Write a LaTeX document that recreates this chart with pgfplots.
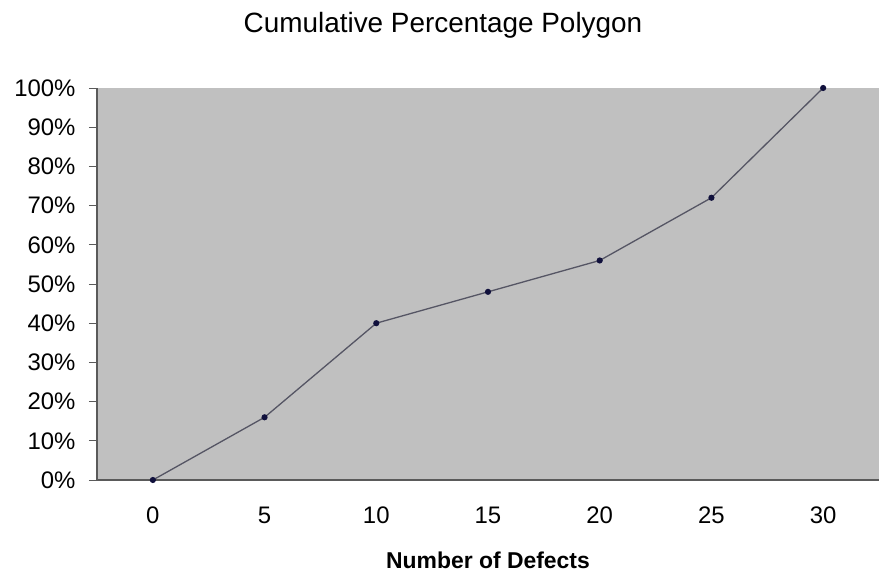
\documentclass[border=0pt]{standalone}
\usepackage{fontspec}
\setmainfont{Liberation Sans}
\usepackage{pgfplots}
\pgfplotsset{compat=1.18}

\definecolor{plotgray}{RGB}{192,192,192}
\definecolor{axisgray}{RGB}{90,90,90}
\definecolor{linegray}{RGB}{85,85,100}
\definecolor{marknavy}{RGB}{16,16,60}

\begin{document}
\begin{tikzpicture}
\begin{axis}[
    at={(0,0)}, anchor=south west,
    scale only axis,
    width=782bp, height=392bp,
    xmin=-2.5, xmax=32.5,
    ymin=0, ymax=100,
    axis background/.style={fill=plotgray},
    axis x line*=bottom,
    axis y line*=left,
    axis line style={axisgray, line width=1.2bp},
    xtick={0,5,...,30},
    extra x ticks={-2.5,2.5,7.5,12.5,17.5,22.5,27.5},
    extra x tick labels={},
    extra x tick style={major tick length=8bp, tick style={axisgray, line width=0.8bp}},
    major x tick style={draw=none},
    ytick={0,10,...,100},
    yticklabel={\pgfmathprintnumber{\tick}\%},
    y tick style={axisgray, line width=0.8bp},
    tick align=outside,
    major tick length=8bp,
    xticklabel style={font=\fontsize{24}{27}\selectfont, anchor=north,
        text height=18bp, text depth=0bp, yshift=-14bp},
    yticklabel style={font=\fontsize{24}{27}\selectfont, xshift=-10bp},
    /pgf/number format/assume math mode=true,
    xlabel={\textbf{Number of Defects}},
    xlabel style={font=\fontsize{23}{26}\selectfont, yshift=-6bp},
    clip=false,
]
\addplot[color=linegray, line width=1.3bp, mark=*,
    mark options={fill=marknavy, draw=marknavy}, mark size=2.4bp]
    coordinates {(0,0) (5,16) (10,40) (15,48) (20,56) (25,72) (30,100)};
\end{axis}
\node[font=\fontsize{28}{32}\selectfont] at (346bp,455bp) {Cumulative Percentage Polygon};
\pgfresetboundingbox
\path[use as bounding box] (-97bp,-97bp) rectangle (782bp,480bp);
\end{tikzpicture}
\end{document}
